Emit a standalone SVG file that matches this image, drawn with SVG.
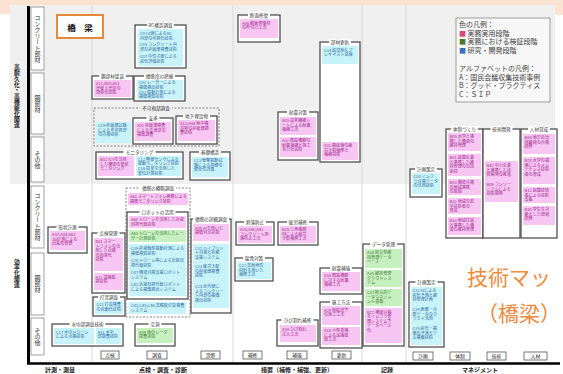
<svg xmlns="http://www.w3.org/2000/svg" width="563" height="374" viewBox="0 0 563 374">
<style>
text{font-family:"Noto Sans CJK JP","Noto Sans",sans-serif}
.grp{fill:#fff;stroke:#505050;stroke-width:1.3}
.dgrp{fill:none;stroke:#777;stroke-width:0.9;stroke-dasharray:2 1.5}
.tb{fill:#fff}
.tbg{fill:#f0f0f0}
.gt{font-size:4.6px;fill:#333;text-anchor:middle}
.pk{fill:#f7c6f2}
.cy{fill:#c8f3f8}
.gr{fill:#c7f0c0}
.tp{font-size:4.1px;fill:#a0268f}
.tc{font-size:4.1px;fill:#2f6aa5}
.tg{font-size:4.1px;fill:#3b7f2f}
.row{fill:#fff;stroke:#8a8a8a;stroke-width:0.8}
.rowt{font-size:6px;fill:#333;writing-mode:vertical-rl;text-anchor:middle}
.big{font-size:5.8px;font-weight:bold;fill:#222;writing-mode:vertical-rl;text-anchor:middle}
.sep{stroke:#d9d9d9;stroke-width:1}
.hd{fill:#fff;stroke:#555;stroke-width:0.8}
.hdt{font-size:4.8px;fill:#222;text-anchor:middle}
.ax{font-size:6px;font-weight:bold;fill:#222;text-anchor:middle}
.lg{font-size:7px;fill:#444}
.orange{font-size:21px;fill:#ef8a3c}
</style>

<!-- background -->
<rect x="0" y="0" width="563" height="374" fill="#fff"/>
<rect x="0" y="0" width="563" height="5" fill="#fbe3d3"/>
<rect x="0" y="0" width="10" height="14" fill="#fbe3d3"/>
<rect x="546" y="0" width="17" height="15" fill="#fbe3d3"/>
<rect x="10" y="5" width="545" height="179" fill="#f0f0f0"/>

<!-- column separators -->
<g id="separators">
<line class="sep" x1="92" y1="5" x2="92" y2="362"/>
<line class="sep" x1="233" y1="5" x2="233" y2="362"/>
<line class="sep" x1="362" y1="5" x2="362" y2="362"/>
<line class="sep" x1="406" y1="5" x2="406" y2="362"/>
</g>

<!-- axes -->
<g id="axes">
<line x1="28.5" y1="6" x2="28.5" y2="364" stroke="#000" stroke-width="3"/>
<line x1="27" y1="363.5" x2="560" y2="363.5" stroke="#000" stroke-width="2.6"/>
<text class="big" x="17" y="96">高耐久化・高機能化関連</text>
<text class="big" x="17" y="273">効率化関連</text>
<text class="ax" x="60" y="371.5">計測・測量</text>
<text class="ax" x="163" y="371.5">点検・調査・診断</text>
<text class="ax" x="297" y="371.5">措置（補修・補強、更新）</text>
<text class="ax" x="387" y="371.5">記録</text>
<text class="ax" x="480" y="371.5">マネジメント</text>
</g>

<!-- row labels -->
<g id="rows">
<rect class="row" x="31" y="7" width="13" height="63"/><text class="rowt" x="37.5" y="38.5">コンクリート部材</text>
<rect class="row" x="31" y="73" width="13" height="61"/><text class="rowt" x="37.5" y="103.5">鋼部材</text>
<rect class="row" x="31" y="137" width="13" height="45"/><text class="rowt" x="37.5" y="159.5">その他</text>
<rect class="row" x="31" y="186" width="13" height="62"/><text class="rowt" x="37.5" y="217">コンクリート部材</text>
<rect class="row" x="31" y="253" width="13" height="62"/><text class="rowt" x="37.5" y="284">鋼部材</text>
<rect class="row" x="31" y="318" width="13" height="37"/><text class="rowt" x="37.5" y="336.5">その他</text>
</g>

<!-- column headers -->
<g id="headers">
<rect class="hd" x="101" y="351" width="18" height="8"/><text class="hdt" x="110" y="357">点検</text>
<rect class="hd" x="147" y="351" width="20" height="8"/><text class="hdt" x="157" y="357">調査</text>
<rect class="hd" x="201" y="351" width="19" height="8"/><text class="hdt" x="210.5" y="357">診断</text>
<rect class="hd" x="243" y="351" width="19" height="8"/><text class="hdt" x="252.5" y="357">補修</text>
<rect class="hd" x="287" y="351" width="20" height="8"/><text class="hdt" x="297" y="357">補強</text>
<rect class="hd" x="332" y="351" width="19" height="8"/><text class="hdt" x="341.5" y="357">更新</text>
<rect class="hd" x="413" y="352" width="20" height="8"/><text class="hdt" x="423" y="358">計画</text>
<rect class="hd" x="450" y="352" width="20" height="8"/><text class="hdt" x="460" y="358">体制</text>
<rect class="hd" x="487" y="352" width="19" height="8"/><text class="hdt" x="496.5" y="358">技術</text>
<rect class="hd" x="524" y="352" width="23" height="8"/><text class="hdt" x="535.5" y="358">人材</text>
</g>

<!-- title -->
<g id="title">
<rect x="57" y="15" width="46" height="23" fill="#fff" stroke="#e8883a" stroke-width="2"/>
<text x="80" y="31" font-size="8.5" font-weight="bold" text-anchor="middle" fill="#111">橋　梁</text>
</g>

<!-- legend -->
<g id="legend">
<rect x="456" y="18" width="94" height="84" fill="#f7f7f7" stroke="#888" stroke-width="0.8"/>
<text class="lg" x="459" y="27">色の凡例：</text>
<text class="lg" x="459" y="35.5" fill="#e05a96"><tspan fill="#d9487f">■</tspan> 実務実用段階</text>
<text class="lg" x="459" y="44" fill="#6f9a3c"><tspan fill="#4e7a2e">■</tspan> 実務における検証段階</text>
<text class="lg" x="459" y="52.5" fill="#5b8fd6"><tspan fill="#3a6fc4">■</tspan> 研究・開発段階</text>
<text class="lg" x="459" y="71">アルファベットの凡例：</text>
<text class="lg" x="459" y="79.5">A：国民会議収集技術事例</text>
<text class="lg" x="459" y="88">B：グッド・プラクティス</text>
<text class="lg" x="459" y="96.5">C：ＳＩＰ</text>
</g>

<text class="orange" x="467" y="285">技術マッ</text>
<text class="orange" x="477" y="321">（橋梁）</text>

<g id="connectors"/>

<!-- ===== upper nodes ===== -->
<g id="n-rc">
<rect class="grp" x="135" y="25" width="51" height="43"/>
<rect class="tb" x="147" y="22" width="27" height="6"/>
<text class="gt" x="160.5" y="26.7">RC構造調査</text>
<rect class="cy" x="138" y="29" width="45" height="37"/>
<text class="tc"><tspan x="140" y="34.5">C01 X線によるRC</tspan><tspan x="140" y="39.5">内部の可視化技術</tspan><tspan x="140" y="46">C05 コンクリート内</tspan><tspan x="140" y="51">部の非破壊検査技術</tspan><tspan x="140" y="57.5">C07 中性子線による</tspan><tspan x="140" y="62.5">劣化評価技術</tspan></text>
</g>

<g id="n-steel-paint">
<rect class="grp" x="92" y="76" width="41" height="23"/>
<rect class="tb" x="99" y="73" width="27" height="6"/>
<text class="gt" x="112.5" y="77.7">鋼部材塗装</text>
<rect class="pk" x="94" y="80" width="37" height="17"/>
<text class="tp"><tspan x="96" y="85">A11,B50,B51</tspan><tspan x="96" y="89.5">塗替え塗装の</tspan><tspan x="96" y="94">効率化技術</tspan></text>
</g>

<g id="n-damage">
<rect class="grp" x="134" y="76" width="51" height="25"/>
<rect class="tb" x="144" y="73" width="31" height="6"/>
<text class="gt" x="159.5" y="77.7">損傷度の把握</text>
<rect class="cy" x="137" y="80" width="46" height="19.5"/>
<text class="tc" font-size="3.9"><tspan x="139" y="84.4">C02 レーザーによる</tspan><tspan x="139" y="89">損傷検出技術</tspan><tspan x="139" y="93.6">C03 振動計測による</tspan><tspan x="139" y="98.2">損傷検知技術</tspan></text>
</g>

<g id="n-invisible">
<rect class="dgrp" x="94" y="108" width="125" height="38"/>
<rect class="tbg" x="140" y="105" width="32" height="6"/>
<text class="gt" x="156" y="109.7">不可視部調査</text>
<rect class="cy" x="96" y="122" width="35" height="21"/>
<text class="tc"><tspan x="98" y="127">C19 非破壊試験</tspan><tspan x="98" y="131.5">による不可視部</tspan><tspan x="98" y="136">の点検技術</tspan></text>
<g id="n-bearing">
<rect class="grp" x="133" y="118" width="40" height="26"/>
<rect class="tb" x="146.5" y="115" width="13" height="6"/>
<text class="gt" x="153" y="119.7">支承</text>
<rect class="pk" x="135" y="122" width="36" height="19"/>
<text class="tp"><tspan x="137" y="127">A02 非破壊検査</tspan><tspan x="137" y="131.5">による支承部の</tspan><tspan x="137" y="136">損傷調査</tspan></text>
</g>
<g id="n-underground">
<rect class="grp" x="176" y="116" width="41" height="28"/>
<rect class="tb" x="183" y="113" width="27" height="6"/>
<text class="gt" x="196.5" y="117.7">地下埋設物</text>
<rect class="pk" x="178" y="120" width="37" height="21"/>
<text class="tp"><tspan x="180" y="125">A13,A44 地中構</tspan><tspan x="180" y="129.5">造物の非破壊調</tspan><tspan x="180" y="134">査技術</tspan></text>
</g>
</g>

<g id="n-monitoring">
<rect class="grp" x="96" y="152" width="87" height="27"/>
<rect class="tb" x="123.5" y="149" width="32" height="6"/>
<text class="gt" x="139.5" y="153.7">モニタリング</text>
<rect class="pk" x="98" y="156" width="36" height="20"/>
<text class="tp"><tspan x="100" y="161">B02 ICTを活用</tspan><tspan x="100" y="165.5">した橋梁の変状</tspan><tspan x="100" y="170">モニタリング</tspan></text>
<rect class="cy" x="136" y="156" width="45" height="20"/>
<text class="tc"><tspan x="138" y="160.5">C12 無線センサによる</tspan><tspan x="138" y="165">振動モニタリング技術</tspan><tspan x="138" y="170">C16 衛星を活用した</tspan><tspan x="138" y="174.5">変位計測技術</tspan></text>
</g>

<g id="n-foundation">
<rect class="grp" x="190" y="152" width="40" height="28"/>
<rect class="tb" x="199" y="149" width="22" height="6"/>
<text class="gt" x="210" y="153.7">基礎構造</text>
<rect class="cy" x="192" y="157" width="36" height="20"/>
<text class="tc"><tspan x="194" y="162">C13 衝撃振動試</tspan><tspan x="194" y="166.5">験による基礎の</tspan><tspan x="194" y="171">健全性評価</tspan></text>
</g>

<g id="n-section-repair">
<rect class="grp" x="238" y="15" width="42" height="27"/>
<rect class="tb" x="248" y="12" width="22" height="6"/>
<text class="gt" x="259" y="16.7">断面修復</text>
<rect class="pk" x="240" y="19" width="38" height="19"/>
<text class="tp"><tspan x="242" y="24.5">A06 断面修復材</tspan><tspan x="242" y="29">の吹付け工法</tspan></text>
</g>

<g id="n-replace">
<rect class="grp" x="320" y="42" width="40" height="120"/>
<rect class="tb" x="329" y="39" width="22" height="6"/>
<text class="gt" x="340" y="43.7">部材更新</text>
<rect class="cy" x="322" y="46" width="36" height="18"/>
<text class="tc"><tspan x="324" y="51.5">C34 超高耐久プ</tspan><tspan x="324" y="56">レキャスト床版</tspan></text>
<rect class="pk" x="322" y="142" width="36" height="18"/>
<text class="tp"><tspan x="324" y="147">A31 鋼床版の疲</tspan><tspan x="324" y="151.5">労き裂補修と</tspan><tspan x="324" y="156">補強技術</tspan></text>
</g>

<g id="n-seismic">
<rect class="grp" x="278" y="112" width="40" height="48"/>
<rect class="tb" x="287" y="109" width="22" height="6"/>
<text class="gt" x="298" y="113.7">耐震対策</text>
<rect class="pk" x="280" y="117" width="36" height="18"/>
<text class="tp"><tspan x="282" y="122">A03 炭素繊維シ</tspan><tspan x="282" y="126.5">ートによる耐震</tspan><tspan x="282" y="131">補強工法</tspan></text>
<rect class="pk" x="280" y="137" width="36" height="20"/>
<text class="tp"><tspan x="282" y="142">A32 既設橋脚の</tspan><tspan x="282" y="146.5">耐震補強と施工</tspan><tspan x="282" y="151">省力化技術</tspan></text>
</g>

<g id="n-plan-upper">
<rect class="grp" x="410" y="169" width="32" height="28"/>
<rect class="tb" x="415" y="166" width="22" height="6"/>
<text class="gt" x="426" y="170.7">計画策定</text>
<rect class="cy" x="412" y="173" width="28" height="21"/>
<text class="tc"><tspan x="413.5" y="178">C30 インフ</tspan><tspan x="413.5" y="182.5">ラ点検データ</tspan><tspan x="413.5" y="187">の活用技術</tspan></text>
</g>

<g id="n-system">
<rect class="grp" x="446" y="129" width="37" height="109"/>
<rect class="tb" x="451" y="126" width="27" height="6"/>
<text class="gt" x="464.5" y="130.7">体制づくり</text>
<rect class="pk" x="448" y="133" width="33" height="18"/>
<text class="tp"><tspan x="449.5" y="138">B05 大学と連</tspan><tspan x="449.5" y="142.5">携した橋梁の</tspan><tspan x="449.5" y="147">維持管理</tspan></text>
<rect class="pk" x="448" y="154" width="33" height="22"/>
<text class="tp"><tspan x="449.5" y="159">B01 民間企業</tspan><tspan x="449.5" y="163.5">と連携した維</tspan><tspan x="449.5" y="168">持管理の包括</tspan><tspan x="449.5" y="172.5">委託</tspan></text>
<rect class="pk" x="448" y="179" width="33" height="16"/>
<text class="tp"><tspan x="449.5" y="184">B03 橋梁点検</tspan><tspan x="449.5" y="188.5">の地域連携</tspan><tspan x="449.5" y="193">の取組</tspan></text>
<rect class="pk" x="448" y="198" width="33" height="16"/>
<text class="tp"><tspan x="449.5" y="203">B32 地域の若</tspan><tspan x="449.5" y="207.5">手技術者の</tspan><tspan x="449.5" y="212">育成</tspan></text>
<rect class="pk" x="448" y="217" width="33" height="18"/>
<text class="tp"><tspan x="449.5" y="222">B13 地域住民</tspan><tspan x="449.5" y="226.5">と連携した橋</tspan><tspan x="449.5" y="231">梁の維持管理</tspan></text>
</g>

<g id="n-techdev">
<rect class="grp" x="483" y="129" width="37" height="109"/>
<rect class="tb" x="490.5" y="126" width="22" height="6"/>
<text class="gt" x="501.5" y="130.7">技術開発</text>
<rect class="pk" x="485" y="161" width="33" height="41"/>
<text class="tp"><tspan x="486.5" y="167">B42 中小企業</tspan><tspan x="486.5" y="171.5">と連携した技</tspan><tspan x="486.5" y="176">術開発の推進</tspan><tspan x="486.5" y="186">B09 コンソー</tspan><tspan x="486.5" y="190.5">シアムによる</tspan><tspan x="486.5" y="195">技術開発</tspan></text>
</g>

<g id="n-hr">
<rect class="grp" x="521" y="129" width="36" height="109"/>
<rect class="tb" x="528" y="126" width="22" height="6"/>
<text class="gt" x="539" y="130.7">人材育成</text>
<rect class="pk" x="523" y="134" width="32" height="20"/>
<text class="tp"><tspan x="524.5" y="139">B04 地方自治</tspan><tspan x="524.5" y="143.5">体職員の点検</tspan><tspan x="524.5" y="148">研修</tspan></text>
<rect class="pk" x="523" y="157" width="32" height="27"/>
<text class="tp"><tspan x="524.5" y="162">B24 大学の講</tspan><tspan x="524.5" y="166.5">座によるメン</tspan><tspan x="524.5" y="171">テナンス技術</tspan><tspan x="524.5" y="175.5">者の育成</tspan></text>
<rect class="pk" x="523" y="187" width="32" height="16"/>
<text class="tp"><tspan x="524.5" y="192">B12 民間技術</tspan><tspan x="524.5" y="196.5">者による技術</tspan><tspan x="524.5" y="201">支援</tspan></text>
<rect class="pk" x="523" y="206" width="32" height="19"/>
<text class="tp"><tspan x="524.5" y="211">B30 学生を対</tspan><tspan x="524.5" y="215.5">象とした現場</tspan><tspan x="524.5" y="220">研修</tspan></text>
</g>

<!-- ===== lower nodes ===== -->
<g id="n-shape">
<rect class="grp" x="48" y="227" width="39" height="26"/>
<rect class="tb" x="56.5" y="224" width="22" height="6"/>
<text class="gt" x="67.5" y="228.7">形状計測</text>
<rect class="pk" x="50" y="231" width="35" height="19"/>
<text class="tp"><tspan x="52" y="236">A37,A44,A63</tspan><tspan x="52" y="240.5">3D計測による</tspan><tspan x="52" y="245">出来形管理</tspan></text>
</g>

<g id="n-inspect">
<rect class="grp" x="92" y="233" width="33" height="60"/>
<rect class="tb" x="97.5" y="230" width="22" height="6"/>
<text class="gt" x="108.5" y="234.7">点検管理</text>
<rect class="pk" x="94" y="238" width="29" height="33"/>
<text class="tp"><tspan x="95.5" y="243">B01 スマー</tspan><tspan x="95.5" y="247.5">トフォンを活</tspan><tspan x="95.5" y="252">用した点検</tspan><tspan x="95.5" y="256.5">の効率化</tspan><tspan x="95.5" y="261">技術</tspan></text>
<rect class="pk" x="94" y="273" width="29" height="17"/>
<text class="tp"><tspan x="95.5" y="278.5">A12 遠隔監</tspan><tspan x="95.5" y="283">視技術</tspan></text>
</g>

<g id="n-hammer">
<rect class="grp" x="93" y="297" width="32" height="19"/>
<rect class="tb" x="98" y="294" width="22" height="6"/>
<text class="gt" x="109" y="298.7">打音調査</text>
<rect class="cy" x="95" y="301" width="28" height="13"/>
<text class="tc"><tspan x="96.5" y="306">C11 打音検査</tspan><tspan x="96.5" y="310.5">の自動化技術</tspan></text>
</g>

<g id="n-underwater">
<rect class="grp" x="52" y="324" width="71" height="22"/>
<rect class="tb" x="69.5" y="321" width="36" height="6"/>
<text class="gt" x="87.5" y="325.7">水中部調査技術</text>
<rect class="cy" x="54" y="328" width="40" height="16"/>
<text class="tc"><tspan x="56" y="333.5">C17 水中ドローン</tspan><tspan x="56" y="338">による点検技術</tspan></text>
<rect class="cy" x="96" y="328" width="25" height="16"/>
<text class="tc"><tspan x="97.5" y="333.5">A51 水中</tspan><tspan x="97.5" y="338">部調査技術</tspan></text>
</g>

<g id="n-cavity">
<rect class="grp" x="135" y="324" width="40" height="22"/>
<rect class="tb" x="148.5" y="321" width="13" height="6"/>
<text class="gt" x="155" y="325.7">空洞</text>
<rect class="gr" x="137" y="328" width="36" height="15"/>
<text class="tg"><tspan x="139" y="333.5">A09 地中レーダ</tspan><tspan x="139" y="338">探査技術</tspan></text>
</g>

<g id="n-rough">
<rect class="dgrp" x="126" y="188" width="64" height="129"/>
<rect class="tb" x="140" y="185" width="36" height="6"/>
<text class="gt" x="158" y="189.7">損傷の概略調査</text>
<rect class="pk" x="128" y="193" width="60" height="12"/>
<text class="tp"><tspan x="130" y="198">A61 スマートフォン画像による</tspan><tspan x="130" y="202.5">損傷モニタリング技術</tspan></text>
<g id="n-robot">
<rect class="grp" x="127" y="212" width="61" height="87"/>
<rect class="tb" x="139.5" y="209" width="36" height="6"/>
<text class="gt" x="157.5" y="213.7">ロボットの活用</text>
<rect class="pk" x="129" y="216" width="57" height="12"/>
<text class="tp"><tspan x="131" y="221">A60 ドローンを活用した近接</tspan><tspan x="131" y="225.5">目視代替技術</tspan></text>
<rect class="gr" x="129" y="230" width="57" height="12"/>
<text class="tg"><tspan x="131" y="235">A63 ドローンを活用したレー</tspan><tspan x="131" y="239.5">ザー計測技術</tspan></text>
<rect class="cy" x="129" y="244" width="57" height="52"/>
<text class="tc"><tspan x="131" y="250">C39 非接触型振動計測による</tspan><tspan x="131" y="254.5">損傷検知技術</tspan><tspan x="131" y="262">C20 ドローン等による近接目</tspan><tspan x="131" y="266.5">視代替技術</tspan><tspan x="131" y="274">C47 橋梁点検支援ロボット</tspan><tspan x="131" y="278.5">システム</tspan><tspan x="131" y="286">C42 近接目視代替ロボット</tspan><tspan x="131" y="290.5">による損傷検出システム</tspan></text>
</g>
<rect class="cy" x="129" y="302" width="57" height="12"/>
<text class="tc"><tspan x="131" y="307">C43,C45,C46 高精度打音検査</tspan><tspan x="131" y="311.5">システム</tspan></text>
</g>

<g id="n-detail">
<rect class="grp" x="191" y="219" width="40" height="94"/>
<rect class="tb" x="193" y="216" width="36" height="6"/>
<text class="gt" x="211" y="220.7">損傷の詳細調査</text>
<rect class="pk" x="193" y="224" width="36" height="17"/>
<text class="tp"><tspan x="195" y="229.5">A08 AIを用いた</tspan><tspan x="195" y="234">損傷判定技術</tspan></text>
<rect class="cy" x="193" y="244" width="36" height="64"/>
<text class="tc"><tspan x="195" y="249.5">C32 ハイブリッ</tspan><tspan x="195" y="254">ド点検と診断</tspan><tspan x="195" y="258.5">支援システム</tspan><tspan x="195" y="268">C33 疲労き裂</tspan><tspan x="195" y="272.5">の非破壊検査</tspan><tspan x="195" y="277">技術</tspan><tspan x="195" y="288">C18 赤外線に</tspan><tspan x="195" y="292.5">よるコンクリー</tspan><tspan x="195" y="297">ト内部の損傷</tspan><tspan x="195" y="301.5">検出技術</tspan></text>
</g>

<g id="n-spall">
<rect class="grp" x="236" y="222" width="38" height="23"/>
<rect class="tb" x="244" y="219" width="22" height="6"/>
<text class="gt" x="255" y="223.7">剥落防止</text>
<rect class="pk" x="238" y="226" width="34" height="17"/>
<text class="tp"><tspan x="240" y="231">A24,A40,A41</tspan><tspan x="240" y="235.5">コンクリート剥</tspan><tspan x="240" y="240">落防止工法</tspan></text>
</g>

<g id="n-fatigue">
<rect class="grp" x="278" y="222" width="40" height="23"/>
<rect class="tb" x="287" y="219" width="22" height="6"/>
<text class="gt" x="298" y="223.7">疲労補修</text>
<rect class="pk" x="280" y="226" width="36" height="17"/>
<text class="tp"><tspan x="282" y="231">B26 三角補剛</tspan><tspan x="282" y="235.5">材による疲労</tspan><tspan x="282" y="240">き裂補修工法</tspan></text>
</g>

<g id="n-corrosion">
<rect class="grp" x="235" y="258" width="38" height="23"/>
<rect class="tb" x="243" y="255" width="22" height="6"/>
<text class="gt" x="254" y="259.7">腐食対策</text>
<rect class="cy" x="237" y="262" width="34" height="17"/>
<text class="tc"><tspan x="239" y="267">C22 高耐食性</tspan><tspan x="239" y="271.5">材料を用いた</tspan><tspan x="239" y="276">補修工法</tspan></text>
</g>

<g id="n-seismic-lower">
<rect class="grp" x="320" y="268" width="42" height="26"/>
<rect class="tb" x="330" y="265" width="22" height="6"/>
<text class="gt" x="341" y="269.7">耐震補強</text>
<rect class="pk" x="322" y="272" width="38" height="19"/>
<text class="tp"><tspan x="324" y="277">A34 既設橋脚</tspan><tspan x="324" y="281.5">に対する耐震</tspan><tspan x="324" y="286">補強工法</tspan></text>
</g>

<g id="n-construction">
<rect class="grp" x="320" y="302" width="42" height="46"/>
<rect class="tb" x="330" y="299" width="22" height="6"/>
<text class="gt" x="341" y="303.7">施工方法</text>
<rect class="pk" x="322" y="306" width="38" height="19"/>
<text class="tp"><tspan x="324" y="311.5">A29 狭隘部で</tspan><tspan x="324" y="316">の施工工法</tspan></text>
<rect class="pk" x="322" y="327" width="38" height="18"/>
<text class="tp"><tspan x="324" y="332">A18 小型重機</tspan><tspan x="324" y="336.5">による床版取</tspan><tspan x="324" y="341">替工法</tspan></text>
</g>

<g id="n-crack">
<rect class="grp" x="277" y="320" width="41" height="26"/>
<rect class="tb" x="281.5" y="317" width="32" height="6"/>
<text class="gt" x="297.5" y="321.7">ひび割れ補修</text>
<rect class="pk" x="280" y="325" width="36" height="17"/>
<text class="tp"><tspan x="282" y="331">A19 ひび割れ</tspan><tspan x="282" y="335.5">注入工法</tspan></text>
</g>

<g id="n-data">
<rect class="grp" x="363" y="244" width="41" height="102"/>
<rect class="tb" x="370" y="241" width="27" height="6"/>
<text class="gt" x="383.5" y="245.7">データ管理</text>
<rect class="gr" x="365" y="249" width="37" height="19"/>
<text class="tg"><tspan x="367" y="254">A30 統合型維</tspan><tspan x="367" y="258.5">持管理データ</tspan><tspan x="367" y="263">ベース</tspan></text>
<rect class="gr" x="365" y="270" width="37" height="17"/>
<text class="tg"><tspan x="367" y="275">A35 維持管理</tspan><tspan x="367" y="279.5">クラウドシス</tspan><tspan x="367" y="284">テム</tspan></text>
<rect class="gr" x="365" y="289" width="37" height="17"/>
<text class="tg"><tspan x="367" y="294">C37 統合的デ</tspan><tspan x="367" y="298.5">ータマネジメ</tspan><tspan x="367" y="303">ント基盤</tspan></text>
<rect class="pk" x="365" y="308" width="37" height="35"/>
<text class="tp"><tspan x="367" y="313.5">B22 橋梁台帳</tspan><tspan x="367" y="318">をインフラ管</tspan><tspan x="367" y="322.5">理システムで</tspan><tspan x="367" y="327">データベース</tspan><tspan x="367" y="331.5">化</tspan></text>
</g>

<g id="n-plan-lower">
<rect class="grp" x="409" y="282" width="35" height="65"/>
<rect class="tb" x="415.5" y="279" width="22" height="6"/>
<text class="gt" x="426.5" y="283.7">計画策定</text>
<rect class="cy" x="411" y="287" width="31" height="58"/>
<text class="tc"><tspan x="412.5" y="292">C31 AIによる</tspan><tspan x="412.5" y="296.5">劣化予測と維</tspan><tspan x="412.5" y="301">持管理計画</tspan><tspan x="412.5" y="311">C39 画像・点</tspan><tspan x="412.5" y="315.5">群データのク</tspan><tspan x="412.5" y="320">ラウド活用</tspan><tspan x="412.5" y="330">C38 劣化・損</tspan><tspan x="412.5" y="334.5">傷の予測モデ</tspan><tspan x="412.5" y="339">ル構築技術</tspan></text>
</g>
</svg>
